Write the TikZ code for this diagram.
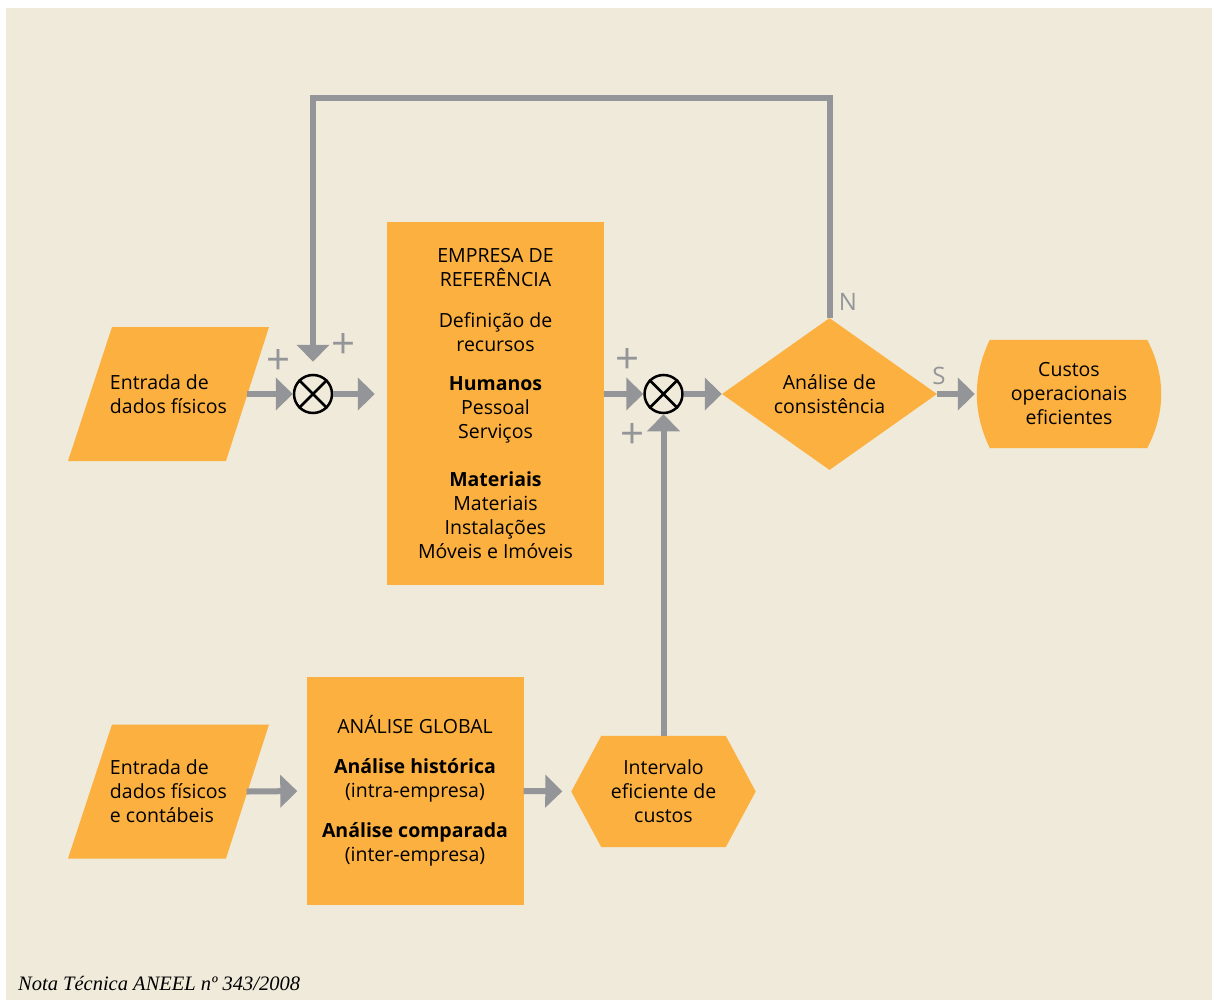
\documentclass[tikz,border=0pt]{standalone}
\usepackage{fontspec}
\setmainfont{Open Sans}
\newfontfamily\notefont{Liberation Serif}
\usepackage{tikz}
\usetikzlibrary{arrows.meta,calc,shapes.geometric,backgrounds}
\definecolor{paperBeige}{RGB}{240,234,218}
\definecolor{boxOrange}{RGB}{251,176,64}
\definecolor{arrowGray}{RGB}{148,149,153}

\tikzset{
  txt/.style={font=\fontsize{19.5}{24}\selectfont, text=black, align=center},
  block/.style={txt, fill=boxOrange, inner sep=0pt},
  datain/.style={txt, inner sep=0pt, minimum width=158, minimum height=134, align=left},
  summer/.style={circle, draw=black, line width=2.5pt, minimum size=38, inner sep=0pt},
  flow/.style={draw=arrowGray, line width=6pt, -{Triangle[length=17pt,width=32pt]}},
  sign/.style={text=arrowGray, font=\fontsize{42}{42}\selectfont, inner sep=0pt},
  branch/.style={text=arrowGray, font=\fontsize{24}{24}\selectfont, inner sep=0pt}
}

\begin{document}
\begin{tikzpicture}[x=1pt,y=-1pt]
  \useasboundingbox (0,0) rectangle (1212,1000);
  \begin{scope}[on background layer]
    \fill[white] (0,0) rectangle (1212,1000);
    \fill[paperBeige] (6,8) rectangle (1212,1000);
  \end{scope}

  % upper row
  \node[datain] (in1) at (168.5,394) {Entrada de\\dados físicos};
  \node[summer] (sum1) at (313,394) {};
  \node[block, minimum width=217, minimum height=363] (ref) at (495.5,403.5)
    {EMPRESA DE\\REFERÊNCIA\\[17pt]Definição de\\recursos\\[15pt]
     \textbf{Humanos}\\Pessoal\\Serviços\\[24pt]
     \textbf{Materiais}\\Materiais\\Instalações\\Móveis e Imóveis};
  \node[summer] (sum2) at (663.5,394) {};
  \node[block, diamond, minimum width=215, minimum height=152, aspect=1.41] (cons)
    at (829.5,394) {Análise de\\consistência};
  \node[txt, inner sep=0pt, minimum width=184, minimum height=108] (out) at (1069,394)
    {Custos\\operacionais\\eficientes};

  % lower row
  \node[datain] (in2) at (168.5,791.5) {Entrada de\\dados físicos\\e contábeis};
  \node[block, minimum width=217, minimum height=228] (glob) at (415,791)
    {ANÁLISE GLOBAL\\[16pt]\textbf{Análise histórica}\\(intra-empresa)\\[16pt]
     \textbf{Análise comparada}\\(inter-empresa)};
  \node[txt, inner sep=0pt, minimum width=184, minimum height=111] (hex) at (663.5,791.5)
    {Intervalo\\eficiente de\\custos};

  \begin{scope}[on background layer]
    \foreach \n in {in1,in2}
      \fill[boxOrange] ($(\n)+(-56.5,-67)$) -- ($(\n)+(100.5,-67)$)
        -- ($(\n)+(57.5,67)$) -- ($(\n)+(-100.5,67)$) -- cycle;
    \fill[boxOrange] ($(out.north west)+(13,0)$) -- ($(out.north east)+(-14,0)$)
      .. controls +(18.7,36) and +(18.7,-36) .. ($(out.south east)+(-14,0)$)
      -- ($(out.south west)+(13,0)$)
      .. controls +(-17.3,-36) and +(-17.3,36) .. ($(out.north west)+(13,0)$) -- cycle;
    \fill[boxOrange] (hex.west) -- ($(hex.north west)+(30,0)$) -- ($(hex.north east)+(-30,0)$)
      -- (hex.east) -- ($(hex.south east)+(-30,0)$) -- ($(hex.south west)+(30,0)$) -- cycle;
  \end{scope}

  % summing junctions
  \foreach \s in {sum1,sum2}
    \draw[line width=2.5pt] (\s.north west) -- (\s.south east) (\s.north east) -- (\s.south west);

  % connectors
  \coordinate (top) at (313,98);
  \draw[flow, shorten <=-1pt] (in1.east) -- (sum1.west);
  \draw[flow, shorten >=12pt] (sum1.east) -- (sum1.east -| ref.west);
  \draw[flow] (sum2.west -| ref.east) -- (sum2.west);
  \draw[flow] (sum2.east) -- (cons.west);
  \draw[flow, shorten >=2pt] (cons.east) -- (out.west);
  \draw[flow, shorten >=12pt] (cons.north) |- (top) -- (sum1.north);
  \draw[flow, shorten <=-1pt, shorten >=9pt] (in2.east) -- (glob.west);
  \draw[flow, shorten >=9pt] (glob.east) -- (hex.west);
  \draw[flow] (hex.north) -- (sum2.south);

  % signs
  \node[sign] (p1) at (279,362) {+};
  \node[sign] (p2) at (344,346) {+};
  \node[sign] (p3) at (627,361) {+};
  \node[sign] (p4) at (632,436) {+};
  \node[branch] (no) at (848,302) {N};
  \node[branch] (yes) at (939,376) {S};

  \node[anchor=base west, inner sep=0pt, font=\notefont\itshape\fontsize{20.5}{24}\selectfont]
    (note) at (18,990) {Nota Técnica ANEEL nº 343/2008};
\end{tikzpicture}
\end{document}
